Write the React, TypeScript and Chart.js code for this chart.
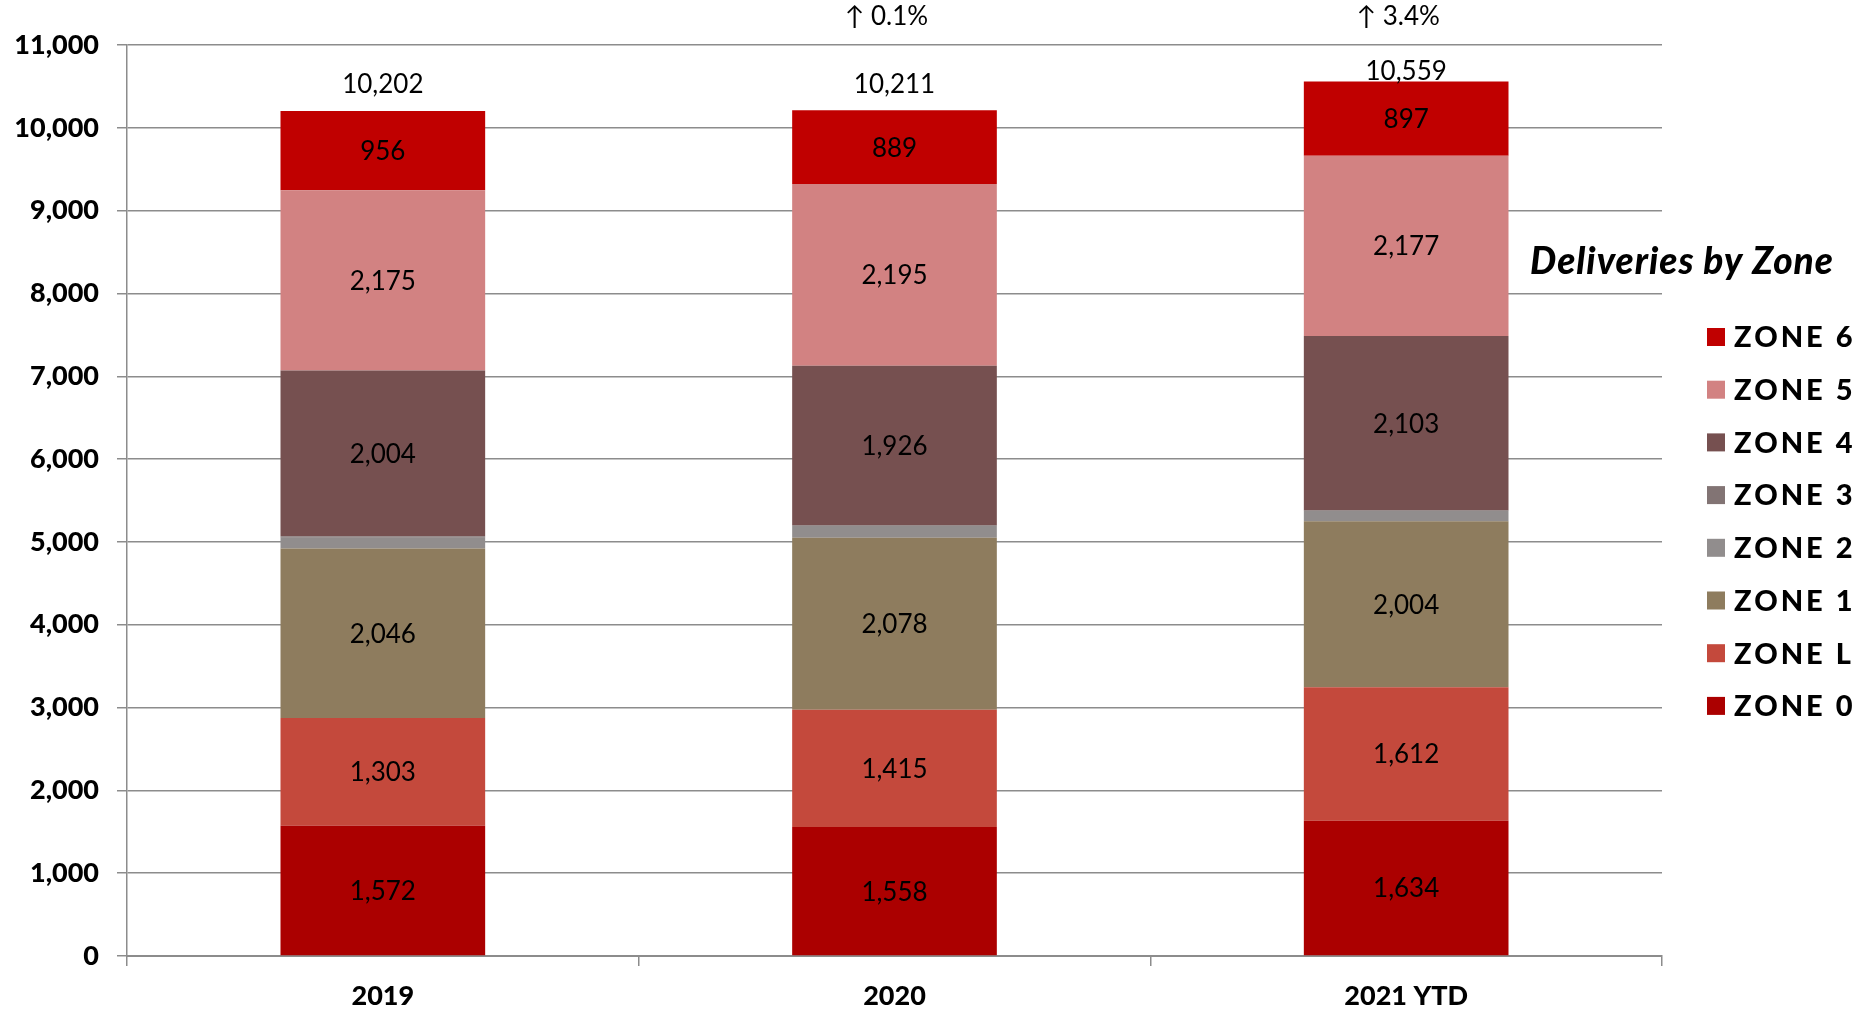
import React, { useEffect, useRef } from "react";
import { Chart, registerables } from "chart.js";

Chart.register(...registerables);

const categories = ["2019", "2020", "2021 YTD"];
const zone0 = [1572, 1558, 1634];
const zoneL = [1303, 1415, 1612];
const zone1 = [2046, 2078, 2004];
const zone2 = [130, 140, 122];
const zone3 = [16, 10, 10];
const zone4 = [2004, 1926, 2103];
const zone5 = [2175, 2195, 2177];
const zone6 = [956, 889, 897];
const totals = [10202, 10211, 10559];
const growth = ["", "\u2191 0.1%", "\u2191 3.4%"];
const yTicks = [0, 1000, 2000, 3000, 4000, 5000, 6000, 7000, 8000, 9000, 10000, 11000];

const FONT = "Lato, 'Open Sans', sans-serif";
const fmt = (v: number) => v.toLocaleString("en-US");

export default function App() {
  const ref = useRef<HTMLCanvasElement>(null);

  useEffect(() => {
    document.body.style.margin = "0";
    const canvas = ref.current;
    if (!canvas) return;

    const labelsPlugin = {
      id: "customLabels",
      afterDatasetsDraw(chart: any) {
        const ctx = chart.ctx as CanvasRenderingContext2D;
        ctx.save();
        ctx.fillStyle = "#000";
        ctx.textAlign = "center";
        ctx.textBaseline = "middle";
        ctx.font = `400 26px ${FONT}`;
        chart.data.datasets.forEach((ds: any, di: number) => {
          if (!ds.showLabel) return;
          const meta = chart.getDatasetMeta(di);
          meta.data.forEach((bar: any, i: number) => {
            ctx.fillText(fmt(ds.data[i]), bar.x, (bar.y + bar.base) / 2 + 1);
          });
        });
        const last = chart.getDatasetMeta(chart.data.datasets.length - 1);
        last.data.forEach((bar: any, i: number) => {
          const ty = Math.max(bar.y - 26, chart.chartArea.top + 27);
          ctx.fillText(fmt(totals[i]), bar.x, ty);
          if (growth[i]) ctx.fillText(growth[i], bar.x - 8, chart.chartArea.top - 28);
        });
        ctx.restore();
      },
      afterDraw(chart: any) {
        const ctx = chart.ctx as CanvasRenderingContext2D;
        ctx.save();
        ctx.fillStyle = "#000";
        ctx.textAlign = "left";
        ctx.textBaseline = "middle";
        ctx.font = `italic 900 37px ${FONT}`;
        (ctx as any).letterSpacing = "1px";
        ctx.fillText("Deliveries by Zone", 1530, 262);
        const items = [...chart.data.datasets].reverse();
        ctx.font = `900 29px ${FONT}`;
        (ctx as any).letterSpacing = "3px";
        items.forEach((ds: any, k: number) => {
          const cy = 337 + k * 52.7;
          ctx.fillStyle = ds.backgroundColor;
          ctx.fillRect(1707, cy - 9, 18, 18);
          ctx.fillStyle = "#000";
          ctx.fillText(ds.label, 1734, cy + 1);
        });
        ctx.restore();
      },
    };

    const mk = (label: string, data: number[], color: string, showLabel: boolean) => ({
      label,
      data,
      backgroundColor: color,
      borderWidth: 0,
      showLabel,
      barPercentage: 0.4,
      categoryPercentage: 1,
    });

    const chart = new Chart(canvas, {
      type: "bar",
      data: {
        labels: categories,
        datasets: [
          mk("ZONE 0", zone0, "#AB0000", true),
          mk("ZONE L", zoneL, "#C4493C", true),
          mk("ZONE 1", zone1, "#8E7C5E", true),
          mk("ZONE 2", zone2, "#918D8D", false),
          mk("ZONE 3", zone3, "#827474", false),
          mk("ZONE 4", zone4, "#765050", true),
          mk("ZONE 5", zone5, "#D28282", true),
          mk("ZONE 6", zone6, "#C00000", true),
        ] as any,
      },
      options: {
        responsive: false,
        animation: false,
        layout: { padding: { top: 45, right: 200, left: 0, bottom: 0 } },
        plugins: { legend: { display: false }, tooltip: { enabled: false } },
        scales: {
          x: {
            stacked: true,
            afterFit: (s: any) => { s.height = 60; },
            grid: { drawOnChartArea: false, offset: true, tickLength: 10, color: "#8c8c8c", lineWidth: 1.5 },
            border: { display: true, color: "#8c8c8c", width: 2 },
            ticks: { color: "#000", padding: 14, font: { family: FONT, size: 27, weight: "900" } },
          },
          y: {
            stacked: true,
            min: 0,
            max: 11000,
            afterFit: (s: any) => { s.width = 127; },
            afterBuildTicks: (s: any) => { s.ticks = yTicks.map((v) => ({ value: v })); },
            grid: { color: "#8c8c8c", lineWidth: 1.5, tickLength: 10 },
            border: { display: true, color: "#8c8c8c", width: 1.5 },
            ticks: {
              color: "#000",
              padding: 18,
              font: { family: FONT, size: 27, weight: "900" },
              callback: (v: any) => fmt(Number(v)),
            },
          },
        },
      } as any,
      plugins: [labelsPlugin],
    });
    return () => chart.destroy();
  }, []);

  return (
    <div style={{ width: 1862, height: 1016 }}>
      <canvas ref={ref} width={1862} height={1016} style={{ display: "block" }} />
    </div>
  );
}
